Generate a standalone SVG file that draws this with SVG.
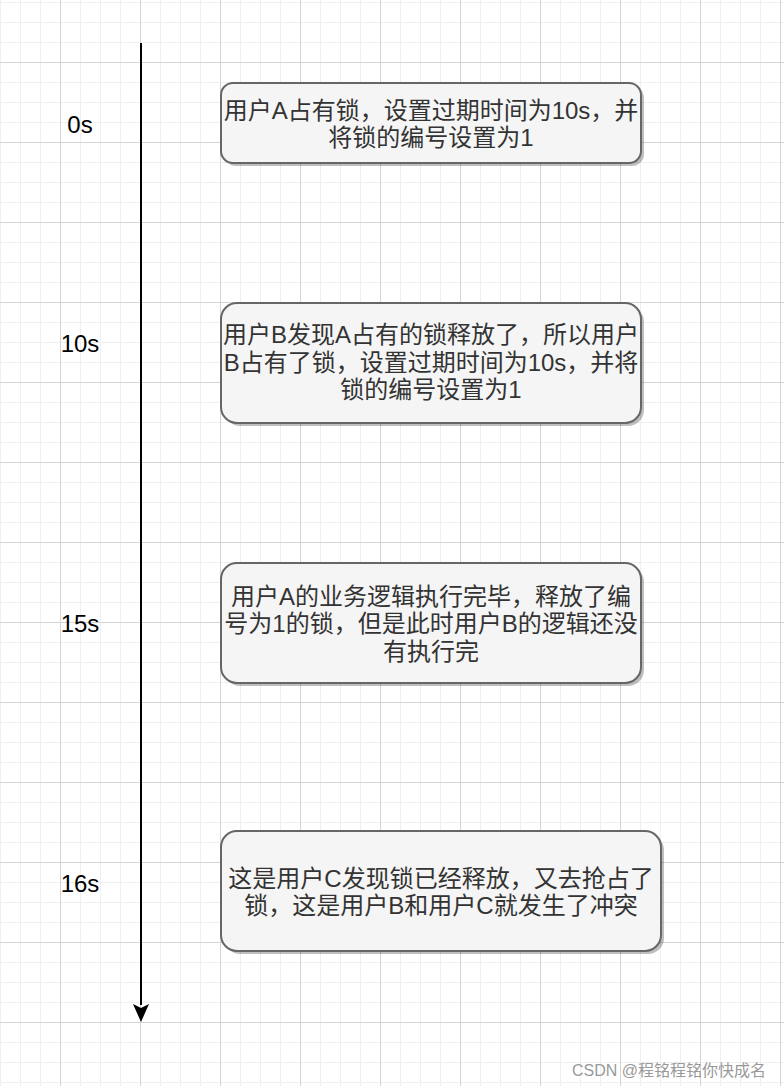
<svg xmlns="http://www.w3.org/2000/svg" width="784" height="1086" viewBox="0 0 784 1086">
<defs>
<pattern id="minor" width="20" height="20" patternUnits="userSpaceOnUse" x="0" y="2">
<path d="M0.5 0V20M0 0.5H20" stroke="#efefef" stroke-width="1" fill="none"/>
</pattern>
<pattern id="major" width="80" height="80" patternUnits="userSpaceOnUse" x="60" y="62">
<path d="M0.5 0V80M0 0.5H80" stroke="#d4d4d4" stroke-width="1" fill="none"/>
</pattern>
<marker id="arrow" viewBox="0 0 16 18" refX="8" refY="17" markerWidth="16" markerHeight="18" markerUnits="userSpaceOnUse" orient="auto-start-reverse">
<path d="M0 0L8 17L16 0L8 4Z" fill="#000"/>
</marker>
</defs>
<style>
.box{fill:#f5f5f5;stroke:#666666;stroke-width:2}
.shadow{fill:#000;opacity:0.25}
.t{font-family:"Liberation Sans","Noto Sans CJK SC",sans-serif;font-size:24px;fill:#333333;text-anchor:middle}
.lbl{font-family:"Liberation Sans","Noto Sans CJK SC",sans-serif;font-size:24px;fill:#000;text-anchor:middle}
.wm{font-family:"Liberation Sans","Noto Sans CJK SC",sans-serif;font-size:16px;fill:#999999}
</style>
<rect width="784" height="1086" fill="#ffffff"/>
<rect width="784" height="1086" fill="url(#minor)"/>
<rect width="784" height="1086" fill="url(#major)"/>

<g id="connectors">
<path d="M141 43V1005" stroke="#000" stroke-width="2" fill="none"/>
<path d="M141 1022L133 1004L141 1008L149 1004Z" fill="#000"/>
</g>

<g id="label-0s"><text class="lbl" x="80" y="133">0s</text></g>
<g id="label-10s"><text class="lbl" x="80" y="352">10s</text></g>
<g id="label-15s"><text class="lbl" x="80" y="632">15s</text></g>
<g id="label-16s"><text class="lbl" x="80" y="892">16s</text></g>

<g id="node1">
<rect class="shadow" x="224" y="86" width="420" height="80" rx="12"/>
<rect class="box" x="221" y="83" width="420" height="80" rx="12"/>
<text class="t" x="431" y="119">用户A占有锁，设置过期时间为10s，并</text>
<text class="t" x="431" y="146">将锁的编号设置为1</text>
</g>

<g id="node2">
<rect class="shadow" x="224" y="306" width="420" height="120" rx="16"/>
<rect class="box" x="221" y="303" width="420" height="120" rx="16"/>
<text class="t" x="431" y="343">用户B发现A占有的锁释放了，所以用户</text>
<text class="t" x="431" y="371">B占有了锁，设置过期时间为10s，并将</text>
<text class="t" x="431" y="398">锁的编号设置为1</text>
</g>

<g id="node3">
<rect class="shadow" x="224" y="566" width="420" height="120" rx="16"/>
<rect class="box" x="221" y="563" width="420" height="120" rx="16"/>
<text class="t" x="431" y="605">用户A的业务逻辑执行完毕，释放了编</text>
<text class="t" x="431" y="632">号为1的锁，但是此时用户B的逻辑还没</text>
<text class="t" x="431" y="660">有执行完</text>
</g>

<g id="node4">
<rect class="shadow" x="224" y="834" width="440" height="120" rx="16"/>
<rect class="box" x="221" y="831" width="440" height="120" rx="16"/>
<text class="t" x="441" y="887">这是用户C发现锁已经释放，又去抢占了</text>
<text class="t" x="441" y="914">锁，这是用户B和用户C就发生了冲突</text>
</g>

<text class="wm" x="572" y="1076">CSDN @程铭程铭你快成名</text>
</svg>
